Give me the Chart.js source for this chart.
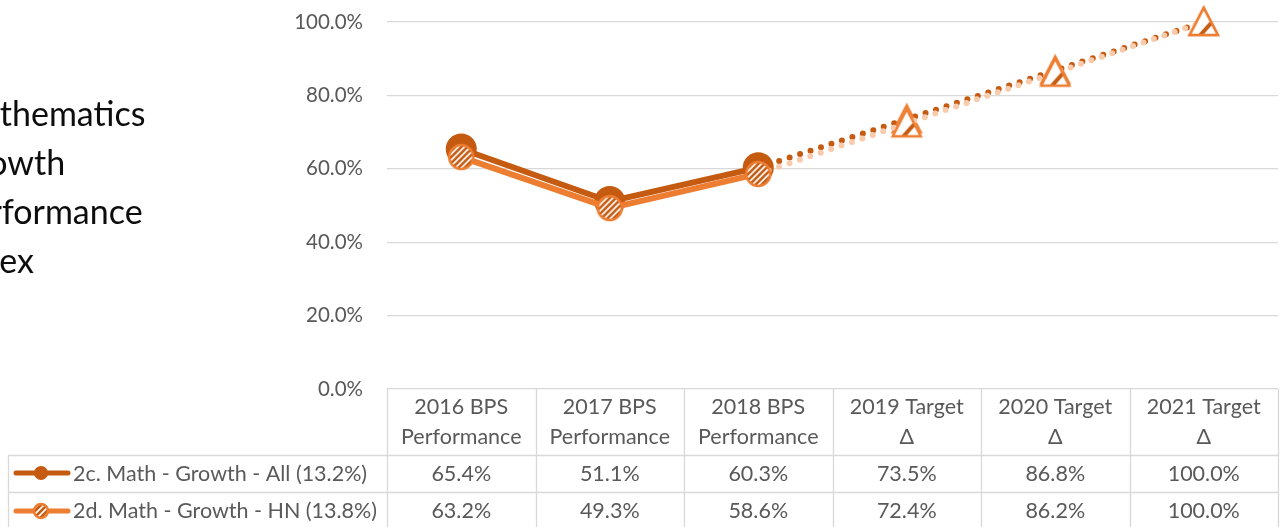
<!DOCTYPE html>
<html>
<head>
<meta charset="utf-8">
<script src="https://cdn.jsdelivr.net/npm/chart.js@4"></script>
<style>
html, body { margin: 0; background: #fff; }
</style>
</head>
<body>
<canvas id="chart" width="1287" height="527"></canvas>
<script>
const categories = [['2016 BPS', 'Performance'], ['2017 BPS', 'Performance'], ['2018 BPS', 'Performance'],
    ['2019 Target', 'Δ'], ['2020 Target', 'Δ'], ['2021 Target', 'Δ']];
const allName = '2c. Math - Growth - All (13.2%)';
const allValues = [65.4, 51.1, 60.3, 73.5, 86.8, 100.0];
const hnName = '2d. Math - Growth - HN (13.8%)';
const hnValues = [63.2, 49.3, 58.6, 72.4, 86.2, 100.0];
const actualCount = 3; // first three are real results, the rest targets
const yTicks = [0, 20, 40, 60, 80, 100];
const titleLines = ['Mathematics', 'Growth', 'Performance', 'Index'];

const dark = '#C55A11';
const light = '#ED7D31';
const pale = '#F8CBAD';
const gridColor = '#D9D9D9';
const textColor = '#595959';
const fontFamily = 'Lato, "Open Sans", sans-serif';

function stripes(g, size, step, width) {
    g.strokeStyle = dark;
    g.lineWidth = width;
    for (let k = -size; k < size * 2; k += step) {
        g.beginPath();
        g.moveTo(k, size);
        g.lineTo(k + size, 0);
        g.stroke();
    }
}

function stripedCircle(r) {
    const c = document.createElement('canvas');
    const s = Math.ceil(r * 2 + 4);
    c.width = s; c.height = s;
    const g = c.getContext('2d');
    g.beginPath();
    g.arc(s / 2, s / 2, r, 0, Math.PI * 2);
    g.fillStyle = '#fff';
    g.fill();
    g.save();
    g.clip();
    stripes(g, s, 6, 2.6);
    g.restore();
    g.beginPath();
    g.arc(s / 2, s / 2, r, 0, Math.PI * 2);
    g.strokeStyle = light;
    g.lineWidth = 2.5;
    g.stroke();
    return c;
}

function stripedTriangle() {
    const c = document.createElement('canvas');
    c.width = 34; c.height = 34;
    const g = c.getContext('2d');
    const path = () => {
        g.beginPath();
        g.moveTo(17, 3);
        g.lineTo(31, 30);
        g.lineTo(3, 30);
        g.closePath();
    };
    path();
    g.fillStyle = '#fff';
    g.fill();
    g.save();
    g.clip();
    g.strokeStyle = dark;
    g.lineWidth = 4;
    g.beginPath();
    g.moveTo(12, 32);
    g.lineTo(27, 15);
    g.stroke();
    g.restore();
    path();
    g.strokeStyle = light;
    g.lineWidth = 2.5;
    g.stroke();
    return c;
}

const circleImg = stripedCircle(12);
const legendCircleImg = stripedCircle(7);
const triangleImg = stripedTriangle();

const tablePlugin = {
    id: 'dataTable',
    afterDraw(chart) {
        const ctx = chart.ctx;
        const area = chart.chartArea;
        const xs = chart.scales.x;
        const band = xs.getPixelForValue(1) - xs.getPixelForValue(0);
        const left = xs.getPixelForValue(0) - band / 2;
        const headTop = area.bottom;
        const row1 = 455, row2 = 492, bottom = 527;
        const legendLeft = 8;

        ctx.save();
        ctx.strokeStyle = gridColor;
        ctx.lineWidth = 1.3;
        ctx.beginPath();
        for (let i = 0; i <= categories.length; i++) {
            const x = Math.round(left + i * band) + 0.5;
            ctx.moveTo(x, headTop);
            ctx.lineTo(x, bottom);
        }
        ctx.moveTo(legendLeft + 0.5, row1);
        ctx.lineTo(legendLeft + 0.5, bottom);
        [row1, row2].forEach(y => {
            ctx.moveTo(legendLeft, y + 0.5);
            ctx.lineTo(left + categories.length * band, y + 0.5);
        });
        ctx.stroke();

        ctx.fillStyle = textColor;
        ctx.font = '21.5px ' + fontFamily;
        ctx.textAlign = 'center';
        ctx.textBaseline = 'middle';
        categories.forEach((lines, i) => {
            const x = xs.getPixelForValue(i);
            ctx.fillText(lines[0], x, 407);
            ctx.fillText(lines[1], x, 437);
            ctx.fillText(allValues[i].toFixed(1) + '%', x, 474);
            ctx.fillText(hnValues[i].toFixed(1) + '%', x, 511);
        });

        // legend keys
        ctx.textAlign = 'left';
        ctx.fillText(allName, 73, 474);
        ctx.fillText(hnName, 73, 511);
        ctx.lineCap = 'round';
        ctx.lineWidth = 5;
        ctx.strokeStyle = dark;
        ctx.beginPath(); ctx.moveTo(16, 473); ctx.lineTo(68, 473); ctx.stroke();
        ctx.fillStyle = dark;
        ctx.beginPath(); ctx.arc(41, 473, 7, 0, Math.PI * 2); ctx.fill();
        ctx.strokeStyle = light;
        ctx.beginPath(); ctx.moveTo(16, 511); ctx.lineTo(68, 511); ctx.stroke();
        ctx.drawImage(legendCircleImg, 41 - legendCircleImg.width / 2, 511 - legendCircleImg.height / 2);

        // title, cut off at the left edge like the original
        ctx.fillStyle = '#0d0d0d';
        ctx.font = '34px ' + fontFamily;
        const x0 = -ctx.measureText('Ma').width;
        titleLines.forEach((t, i) => ctx.fillText(t, x0, 115 + i * 49));
        ctx.restore();
    }
};

const segStyle = (dashColor, solidColor) => ({
    borderDash: c => c.p0DataIndex >= actualCount - 1 ? [0, 11] : undefined,
    borderColor: c => c.p0DataIndex >= actualCount - 1 ? dashColor : solidColor
});

new Chart(document.getElementById('chart'), {
    type: 'line',
    data: {
        labels: categories.map((c, i) => i),
        datasets: [{
            label: allName,
            data: allValues,
            order: 2,
            clip: false,
            borderColor: dark,
            borderWidth: 6,
            borderCapStyle: 'round',
            segment: segStyle(dark, dark),
            pointStyle: c => c.dataIndex < actualCount ? 'circle' : triangleImg,
            pointRadius: 12.5,
            pointBackgroundColor: dark,
            pointBorderColor: dark,
            tension: 0
        }, {
            label: hnName,
            data: hnValues,
            order: 1,
            clip: false,
            borderColor: light,
            borderWidth: 6,
            borderCapStyle: 'round',
            segment: segStyle(pale, light),
            pointStyle: c => c.dataIndex < actualCount ? circleImg : triangleImg,
            pointRadius: 12,
            tension: 0
        }]
    },
    options: {
        responsive: false,
        animation: false,
        events: [],
        layout: { autoPadding: false, padding: { top: 22, right: 9, bottom: 138, left: 0 } },
        plugins: { legend: { display: false }, tooltip: { enabled: false } },
        scales: {
            x: { type: 'category', offset: true, display: false },
            y: {
                min: 0,
                max: 100,
                afterBuildTicks: s => { s.ticks = yTicks.map(v => ({ value: v })); },
                afterFit: s => { s.width = 387; s.paddingTop = 0; s.paddingBottom = 0; },
                border: { display: false },
                grid: { color: gridColor, lineWidth: 1.3, drawTicks: false },
                ticks: {
                    padding: 24,
                    color: textColor,
                    font: { size: 20.5, family: fontFamily },
                    callback: v => v.toFixed(1) + '%'
                }
            }
        }
    },
    plugins: [tablePlugin]
});
</script>
</body>
</html>
